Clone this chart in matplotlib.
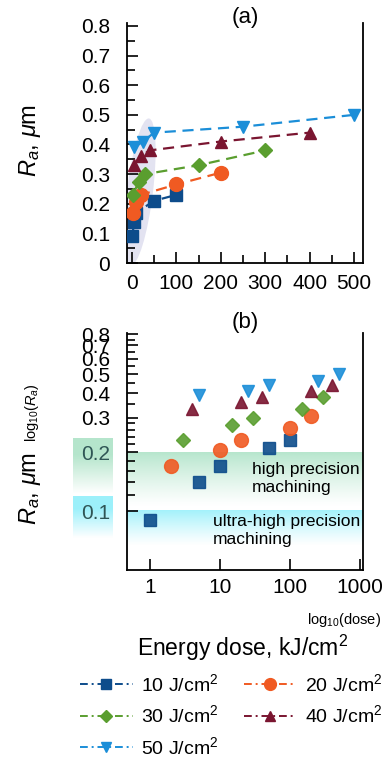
import numpy as np
import matplotlib
matplotlib.use("Agg")
import matplotlib.pyplot as plt
from matplotlib.patches import Ellipse
from matplotlib.lines import Line2D
from matplotlib.transforms import IdentityTransform

plt.rcParams['font.family'] = ['Liberation Sans', 'DejaVu Sans']
plt.rcParams['mathtext.fontset'] = 'custom'
plt.rcParams['mathtext.rm'] = 'Liberation Sans'
plt.rcParams['mathtext.it'] = 'Liberation Sans:italic'

# energy dose (kJ/cm2) and roughness Ra (um) per fluence
labels = ['10 J/cm$^2$', '20 J/cm$^2$', '30 J/cm$^2$', '40 J/cm$^2$', '50 J/cm$^2$']
dose_10 = [1, 5, 10, 50, 100]
ra_10 = [0.09, 0.14, 0.17, 0.21, 0.23]
dose_20 = [2, 10, 20, 100, 200]
ra_20 = [0.17, 0.205, 0.23, 0.265, 0.305]
dose_30 = [3, 15, 30, 150, 300]
ra_30 = [0.23, 0.275, 0.30, 0.33, 0.38]
dose_40 = [4, 20, 40, 200, 400]
ra_40 = [0.33, 0.36, 0.38, 0.41, 0.44]
dose_50 = [5, 25, 50, 250, 500]
ra_50 = [0.39, 0.41, 0.44, 0.46, 0.50]

doses = [dose_10, dose_20, dose_30, dose_40, dose_50]
ras = [ra_10, ra_20, ra_30, ra_40, ra_50]
colors = ['#0d4c8b', '#f05a22', '#5a9e2f', '#7a1530', '#1b8ed8']
markers = ['s', 'o', 'D', '^', 'v']
msizes = [9, 10, 7, 8, 8]

W, H = 384, 758
fig = plt.figure(figsize=(W / 100, H / 100), dpi=100)


def px_axes(l, t, r, b):
    return fig.add_axes([l / W, 1 - b / H, (r - l) / W, (b - t) / H])


ax1 = px_axes(127, 23, 363, 263)
ax2 = px_axes(127, 333, 363, 570)

for ax in (ax1, ax2):
    ax.spines['top'].set_visible(False)
    for s in ('left', 'bottom', 'right'):
        ax.spines[s].set_linewidth(1.3)
    ax.tick_params(which='both', direction='in', labelsize=15, width=1.2,
                   right=False, top=False)
    ax.tick_params(which='major', length=8)
    ax.tick_params(which='minor', length=6)

# ---- panel (a)
for d, r, c, m, ms in zip(doses, ras, colors, markers, msizes):
    ax1.plot(d, r, linestyle=(0, (5, 3)), color=c, lw=1.6, marker=m,
             markersize=ms, zorder=3)
ax1.set_xlim(-11, 520)
ax1.set_ylim(0, 0.81)
ax1.set_xticks([0, 100, 200, 300, 400, 500])
ax1.set_xticks([50, 150, 250, 350, 450], minor=True)
ax1.set_yticks(np.arange(0, 0.81, 0.1))
ax1.set_yticklabels(['0', '0.1', '0.2', '0.3', '0.4', '0.5', '0.6', '0.7', '0.8'])
ax1.set_yticks(np.arange(0.05, 0.8, 0.1), minor=True)
ax1.tick_params(axis='x', pad=8)
ax1.tick_params(axis='y', pad=12)
ax1.set_title('(a)', fontsize=16, pad=0, y=1.0)

# shaded ellipse over the low dose points
cx, cy = ax1.transData.transform((18, 0.24))
ell = Ellipse((cx, cy), 26, 148, angle=-7, transform=IdentityTransform(),
              facecolor='#dcdcee', edgecolor='none', alpha=0.8, zorder=1)
ell.set_clip_path(ax1.patch)
ax1.add_artist(ell)

fig.text(30 / W, 1 - 140 / H, '$R_a$, $\\mu$m', rotation=90, fontsize=17,
         ha='center', va='center')

# ---- panel (b)
ax2.set_xscale('log')
ax2.set_yscale('log')
for d, r, c, m, ms in zip(doses, ras, colors, markers, msizes):
    ax2.plot(d, r, linestyle='none', color=c, marker=m, markersize=ms,
             alpha=0.9, zorder=3)
ax2.set_xlim(0.47, 1100)
ax2.set_ylim(0.05, 0.81)
ax2.set_xticks([1, 10, 100, 1000])
ax2.set_xticklabels(['1', '10', '100', '1000'])
yt = [0.1, 0.2, 0.3, 0.4, 0.5, 0.6, 0.7, 0.8]
ax2.set_yticks(yt)
ax2.set_yticklabels(['0.1', '0.2', '0.3', '0.4', '0.5', '0.6', '0.7', '0.8'])
ax2.set_yticks([0.12, 0.14, 0.16, 0.18, 0.22, 0.24, 0.26, 0.28,
                0.35, 0.45, 0.55, 0.65, 0.75], minor=True)
ax2.yaxis.set_minor_formatter(plt.NullFormatter())
ax2.tick_params(axis='x', pad=6)
ax2.tick_params(axis='y', pad=12)
ax2.get_yticklabels()[0].set_color('#2f5555')
ax2.get_yticklabels()[1].set_color('#2f5555')
ax2.set_title('(b)', fontsize=16, pad=1)


def band(ax, y_top, y_bot, rgb, a0):
    lo, hi = np.log10(ax.get_ylim())
    f_top = (np.log10(y_top) - lo) / (hi - lo)
    f_bot = (np.log10(y_bot) - lo) / (hi - lo)
    n = 100
    img = np.zeros((n, 1, 4))
    img[:, 0, :3] = rgb
    img[:, 0, 3] = np.linspace(a0, 0, n) ** 1.2
    ax.imshow(img, extent=[0, 1, f_bot, f_top], transform=ax.transAxes,
              aspect='auto', zorder=0, interpolation='bilinear')


band(ax2, 0.2, 0.105, (0.42, 0.80, 0.60), 0.55)
band(ax2, 0.1, 0.066, (0.45, 0.92, 0.98), 0.7)
ax2.set_xlim(0.47, 1100)
ax2.set_ylim(0.05, 0.81)

ax2.text(0.53, 0.455, 'high precision\nmachining', transform=ax2.transAxes,
         fontsize=12.5, ha='left', va='top', linespacing=1.2)
ax2.text(0.365, 0.235, 'ultra-high precision\nmachining', transform=ax2.transAxes,
         fontsize=12.5, ha='left', va='top', linespacing=1.2)


# gradient patches behind the 0.1 and 0.2 labels
def side_patch(t, b, rgb, a0):
    pa = px_axes(73, t, 113, b)
    pa.set_zorder(-1)
    pa.axis('off')
    n = 100
    img = np.zeros((n, 1, 4))
    img[:, 0, :3] = rgb
    img[:, 0, 3] = np.concatenate([np.full(30, a0), np.linspace(a0, 0, n - 30)])
    pa.imshow(img, aspect='auto', extent=[0, 1, 0, 1], interpolation='bilinear')


side_patch(438, 494, (0.42, 0.80, 0.60), 0.5)
side_patch(496, 538, (0.45, 0.92, 0.98), 0.7)

fig.text(30 / W, 1 - 488 / H, '$R_a$, $\\mu$m', rotation=90, fontsize=17,
         ha='center', va='center')
fig.text(32 / W, 1 - 413 / H, 'log$_{10}$($R_a$)', rotation=90, fontsize=10.5,
         ha='center', va='center')

fig.text(381 / W, 1 - 620 / H, 'log$_{10}$(dose)', fontsize=10.5,
         ha='right', va='center')
fig.text(243 / W, 1 - 648 / H, 'Energy dose, kJ/cm$^2$', fontsize=16.5,
         ha='center', va='center')

# legend, filled column-wise: 10, 30, 50 | 20, 40
handles = [Line2D([], [], color=c, marker=m, markersize=ms * 0.85,
                  linestyle=(0, (4, 2, 1, 2)), lw=1.4)
           for c, m, ms in zip(colors, markers, msizes)]
order = [0, 2, 4, 1, 3]
fig.legend([handles[i] for i in order], [labels[i] for i in order],
           loc='upper left', bbox_to_anchor=(80 / W, 1 - 673 / H), ncol=2,
           frameon=False, fontsize=14, handlelength=2.7, handletextpad=0.45,
           columnspacing=1.3, labelspacing=0.5, borderaxespad=0,
           borderpad=0)

fig.savefig('out.png', dpi=100)
